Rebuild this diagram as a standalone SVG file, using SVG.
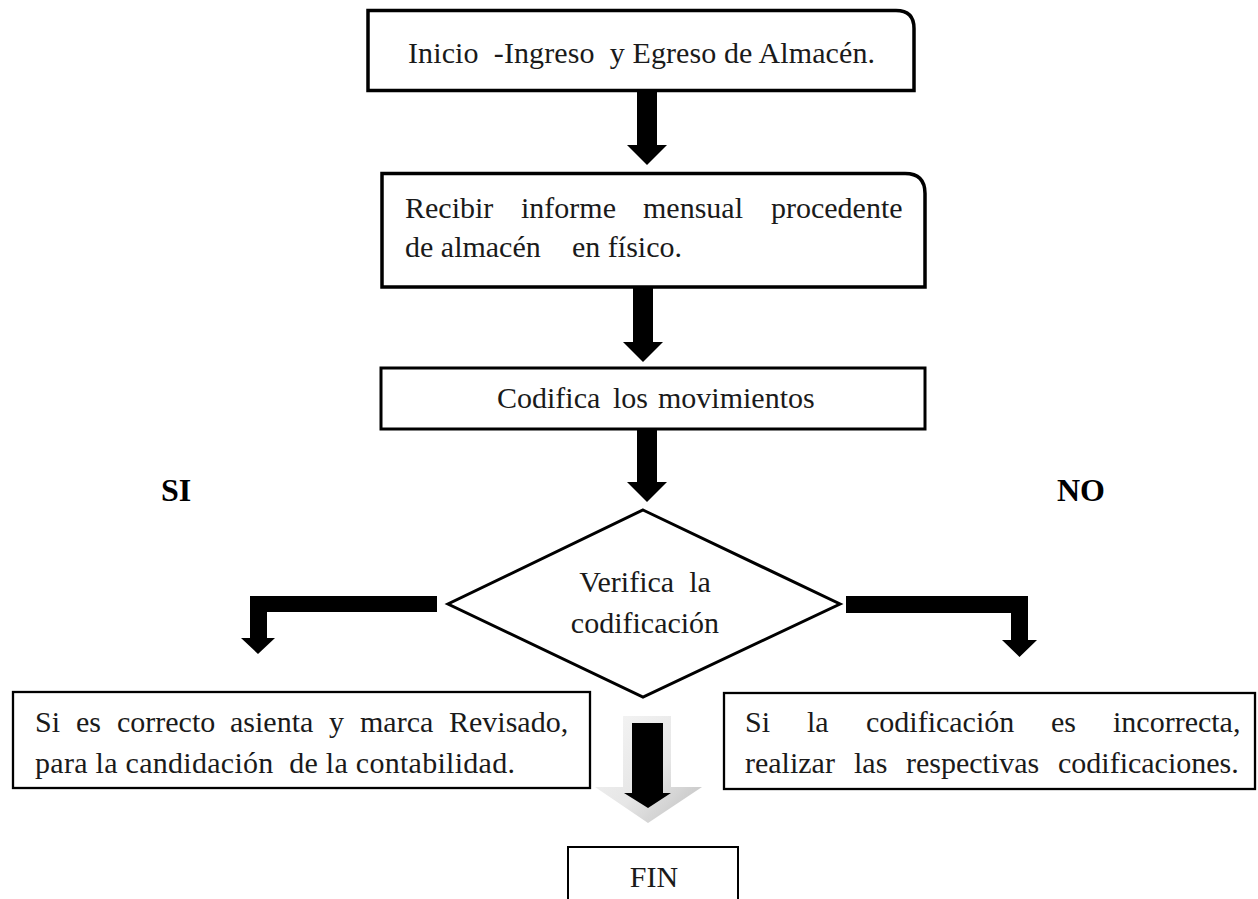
<svg xmlns="http://www.w3.org/2000/svg" width="1258" height="899" viewBox="0 0 1258 899">
  <defs>
    <linearGradient id="gshade" x1="0" y1="0" x2="1" y2="1">
      <stop offset="0" stop-color="#f6f6f6"/>
      <stop offset="0.55" stop-color="#e6e6e6"/>
      <stop offset="1" stop-color="#bdbdbd"/>
    </linearGradient>
  </defs>
  <style>
    .box { fill: #ffffff; stroke: #000000; stroke-width: 3.5; }
    .thin { fill: #ffffff; stroke: #000000; stroke-width: 2.3; }
    .t { font-family: "Liberation Serif", "Times New Roman", serif; font-size: 30px; fill: #1a1a1a; }
    .lbl { font-family: "Liberation Serif", "Times New Roman", serif; font-size: 32px; font-weight: bold; fill: #000000; }
    .arr { fill: #000000; stroke: none; }
  </style>
  <rect width="1258" height="899" fill="#ffffff"/>

  <g id="connectors">
    <polygon class="arr" points="637,91 657,91 657,145 667,145 647,165 627,145 637,145"/>
    <polygon class="arr" points="633,288 653,288 653,342 663,342 643,362 623,342 633,342"/>
    <polygon class="arr" points="637,429 657,429 657,482 667,482 647,502 627,482 637,482"/>
    <polygon class="arr" points="437,596 250,596 250,638 241,638 258,654 275,638 267,638 267,612 437,612"/>
    <polygon class="arr" points="846,596 1028,596 1028,640 1037,640 1019.5,657 1002,640 1011,640 1011,613 846,613"/>
    <polygon points="623,716 671,716 671,787 702,787 648,823 595,787 623,787" fill="url(#gshade)"/>
    <polygon class="arr" points="632,723 663,723 663,793 671,793 648,808 624,793 632,793"/>
  </g>

  <g id="n-inicio">
    <path class="box" d="M368,10.5 H896 Q914,10.5 914,28.5 V90.5 H368 Z"/>
    <text class="t" x="408" y="63" textLength="467" lengthAdjust="spacing" xml:space="preserve">Inicio  -Ingreso  y Egreso de Almacén.</text>
  </g>

  <g id="n-recibir">
    <path class="box" d="M382,173.5 H905 Q925,173.5 925,193.5 V287 H382 Z"/>
    <text class="t" y="218"><tspan x="405">Recibir</tspan><tspan x="521">informe</tspan><tspan x="643">mensual</tspan><tspan x="771">procedente</tspan></text>
    <text class="t" y="257"><tspan x="405">de almacén</tspan><tspan x="572">en físico.</tspan></text>
  </g>

  <g id="n-codifica">
    <rect class="box" x="381" y="368" width="544" height="61" style="stroke-width:3"/>
    <text class="t" y="408"><tspan x="497">Codifica</tspan><tspan x="613">los</tspan><tspan x="658">movimientos</tspan></text>
  </g>

  <g id="n-verifica">
    <polygon class="box" points="643,510 840,604 643,697 448,604" style="stroke-width:3"/>
    <text class="t" y="592" x="645" text-anchor="middle" xml:space="preserve">Verifica  la</text>
    <text class="t" y="633" x="645" text-anchor="middle">codificación</text>
  </g>

  <g id="n-si">
    <rect class="thin" x="13" y="692" width="577" height="96"/>
    <text class="t" y="732"><tspan x="35">Si</tspan><tspan x="76">es</tspan><tspan x="117">correcto</tspan><tspan x="230">asienta</tspan><tspan x="329">y</tspan><tspan x="360">marca</tspan><tspan x="449">Revisado,</tspan></text>
    <text class="t" y="773" textLength="480" lengthAdjust="spacing" x="35" xml:space="preserve">para la candidación  de la contabilidad.</text>
  </g>

  <g id="n-no">
    <rect class="thin" x="724" y="693" width="531" height="96"/>
    <text class="t" y="732"><tspan x="745">Si</tspan><tspan x="807">la</tspan><tspan x="866">codificación</tspan><tspan x="1051">es</tspan><tspan x="1113">incorrecta,</tspan></text>
    <text class="t" y="773"><tspan x="745">realizar</tspan><tspan x="854">las</tspan><tspan x="906">respectivas</tspan><tspan x="1058">codificaciones.</tspan></text>
  </g>

  <g id="n-fin">
    <path class="thin" d="M568,900 V847 H738 V900" style="stroke-width:2"/>
    <text class="t" y="887" x="654" text-anchor="middle">FIN</text>
  </g>

  <g id="label-si">
    <text class="lbl" x="161" y="501">SI</text>
  </g>
  <g id="label-no">
    <text class="lbl" x="1057" y="501">NO</text>
  </g>
</svg>
